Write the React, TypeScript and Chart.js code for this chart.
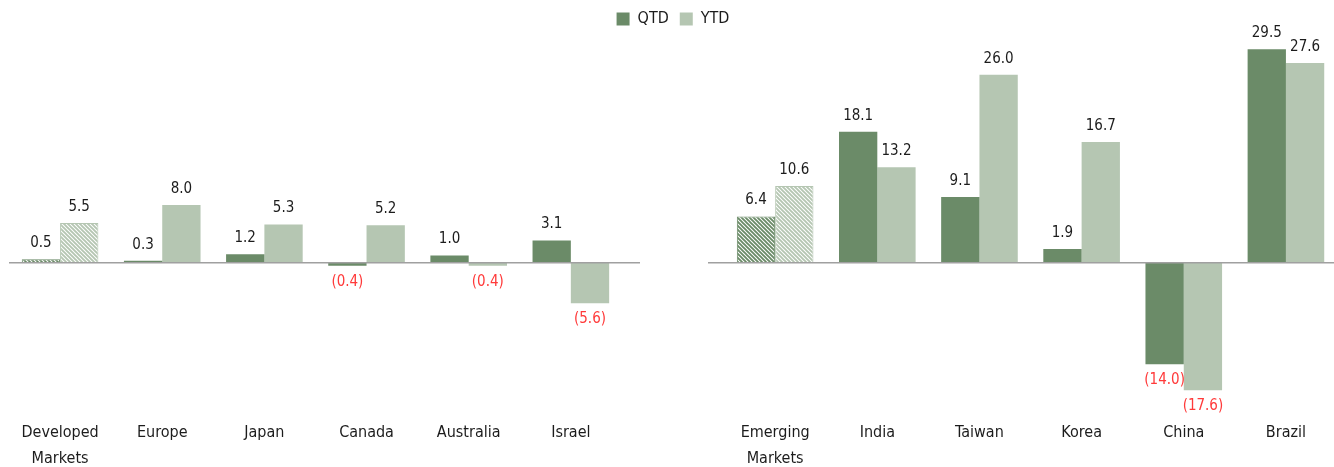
import React, { useEffect, useRef } from "react";
import { Chart, registerables } from "chart.js";

Chart.register(...registerables);

// ---- data ----
const developedCategories: (string | string[])[] = [["Developed", "Markets"], "Europe", "Japan", "Canada", "Australia", "Israel"];
const developedQtd = [0.5, 0.3, 1.2, -0.4, 1.0, 3.1];
const developedYtd = [5.5, 8.0, 5.3, 5.2, -0.4, -5.6];

const emergingCategories: (string | string[])[] = [["Emerging", "Markets"], "India", "Taiwan", "Korea", "China", "Brazil"];
const emergingQtd = [6.4, 18.1, 9.1, 1.9, -14.0, 29.5];
const emergingYtd = [10.6, 13.2, 26.0, 16.7, -17.6, 27.6];

const seriesNames = ["QTD", "YTD"];
const hatchedCategories = ["Developed Markets", "Emerging Markets"];

// ---- styles ----
const FONT = "'DejaVu Sans Condensed', 'DejaVu Sans', sans-serif";
const QTD_COLOR = "#6b8b68";
const YTD_COLOR = "#b5c6b2";
const TEXT_COLOR = "#1c1c1c";
const NEG_COLOR = "#ff3a3a";
const ZERO_LINE = "#a0a0a0";

function makeHatch(color: string): CanvasPattern | string {
  const c = document.createElement("canvas");
  c.width = 4;
  c.height = 4;
  const g = c.getContext("2d");
  if (!g) return color;
  g.fillStyle = "#ffffff";
  g.fillRect(0, 0, 4, 4);
  g.strokeStyle = color;
  g.lineWidth = 1.9;
  g.beginPath();
  g.moveTo(-1, -1);
  g.lineTo(5, 5);
  g.moveTo(-1, 3);
  g.lineTo(1, 5);
  g.moveTo(3, -1);
  g.lineTo(5, 1);
  g.stroke();
  return g.createPattern(c, "repeat") || color;
}

const labelText = (l: string | string[]) => (Array.isArray(l) ? l.join(" ") : l);

const zeroLinePlugin = {
  id: "zeroLine",
  afterDatasetsDraw(chart: any) {
    const { ctx, chartArea, scales } = chart;
    const y = scales.y.getPixelForValue(0);
    const gx = scales.x.getPixelForValue(developedCategories.length);
    ctx.save();
    ctx.strokeStyle = ZERO_LINE;
    ctx.lineWidth = 1.5;
    ctx.beginPath();
    ctx.moveTo(chartArea.left, y);
    ctx.lineTo(gx - 33, y);
    ctx.moveTo(gx + 35, y);
    ctx.lineTo(chartArea.right, y);
    ctx.stroke();
    ctx.restore();
  },
};

const valueLabelPlugin = {
  id: "valueLabels",
  afterDatasetsDraw(chart: any) {
    const { ctx } = chart;
    ctx.save();
    ctx.font = `15px ${FONT}`;
    ctx.textAlign = "center";
    ctx.textBaseline = "middle";
    chart.data.datasets.forEach((ds: any, i: number) => {
      const meta = chart.getDatasetMeta(i);
      meta.data.forEach((bar: any, j: number) => {
        const v = ds.data[j];
        if (v === null || v === undefined) return;
        const neg = v < 0;
        const txt = neg ? `(${Math.abs(v).toFixed(1)})` : v.toFixed(1);
        ctx.fillStyle = neg ? NEG_COLOR : TEXT_COLOR;
        ctx.fillText(txt, bar.x, neg ? bar.y + 16 : bar.y - 16);
      });
    });
    ctx.restore();
  },
};

export default function App() {
  const canvasRef = useRef<HTMLCanvasElement | null>(null);

  useEffect(() => {
    if (!canvasRef.current) return;
    const labels = [...developedCategories, "", ...emergingCategories];
    const qtd = [...developedQtd, null, ...emergingQtd];
    const ytd = [...developedYtd, null, ...emergingYtd];
    const isHatched = labels.map((l) => hatchedCategories.includes(labelText(l)));
    const qtdHatch = makeHatch(QTD_COLOR);
    const ytdHatch = makeHatch(YTD_COLOR);

    const chart = new Chart(canvasRef.current, {
      type: "bar",
      data: {
        labels,
        datasets: [
          {
            label: seriesNames[0],
            data: qtd,
            backgroundColor: isHatched.map((h) => (h ? qtdHatch : QTD_COLOR)),
            borderColor: QTD_COLOR,
            borderWidth: isHatched.map((h) => (h ? 1 : 0)),
            categoryPercentage: 0.75,
            barPercentage: 1.0,
          },
          {
            label: seriesNames[1],
            data: ytd,
            backgroundColor: isHatched.map((h) => (h ? ytdHatch : YTD_COLOR)),
            borderColor: YTD_COLOR,
            borderWidth: isHatched.map((h) => (h ? 1 : 0)),
            categoryPercentage: 0.75,
            barPercentage: 1.0,
          },
        ],
      } as any,
      options: {
        animation: false,
        responsive: true,
        maintainAspectRatio: false,
        layout: { padding: { left: 9, right: 0, top: 0, bottom: 0 } },
        plugins: {
          tooltip: { enabled: false },
          legend: {
            display: true,
            position: "top",
            labels: {
              font: { family: FONT, size: 16 },
              color: TEXT_COLOR,
              boxWidth: 13,
              boxHeight: 13,
              padding: 11,
              generateLabels: (c: any) =>
                c.data.datasets.map((ds: any, i: number) => ({
                  text: ds.label,
                  fillStyle: i === 0 ? QTD_COLOR : YTD_COLOR,
                  strokeStyle: i === 0 ? QTD_COLOR : YTD_COLOR,
                  lineWidth: 0,
                  fontColor: TEXT_COLOR,
                  hidden: false,
                  datasetIndex: i,
                })),
            },
          },
        },
        scales: {
          x: {
            grid: { display: false, drawTicks: false },
            border: { display: false },
            ticks: {
              font: { family: FONT, size: 16, lineHeight: 1.6 },
              color: TEXT_COLOR,
              padding: 12.6,
              autoSkip: false,
              maxRotation: 0,
              minRotation: 0,
            },
          },
          y: {
            display: false,
            min: -20,
            max: 31.2,
          },
        },
      } as any,
      plugins: [zeroLinePlugin, valueLabelPlugin],
    });
    return () => chart.destroy();
  }, []);

  return (
    <div
      style={{
        position: "absolute",
        left: 0,
        top: 0,
        width: 1334,
        height: 467,
        overflow: "hidden",
        background: "#ffffff",
      }}
    >
      <div style={{ position: "relative", width: 1337, height: 484 }}>
        <canvas ref={canvasRef} />
      </div>
    </div>
  );
}
